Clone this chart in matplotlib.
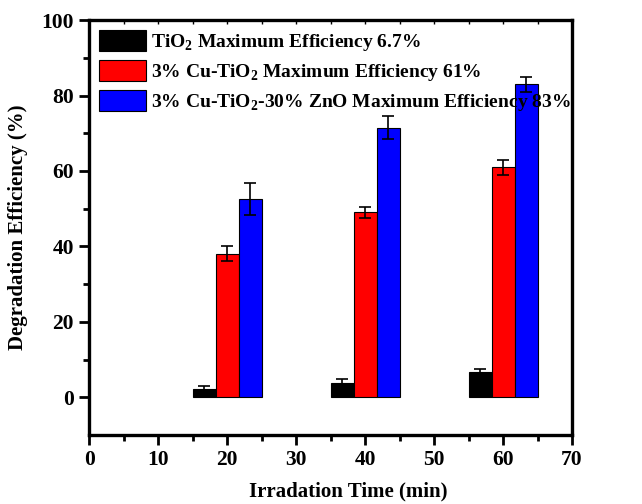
import numpy as np
import matplotlib.pyplot as plt
from matplotlib.ticker import MultipleLocator

plt.rcParams['font.family'] = ['Liberation Serif', 'DejaVu Serif']
plt.rcParams['font.weight'] = 'bold'
plt.rcParams['mathtext.fontset'] = 'custom'
plt.rcParams['mathtext.rm'] = 'Liberation Serif:bold'
plt.rcParams['mathtext.bf'] = 'Liberation Serif:bold'

# irradiation times (min)
times = np.array([20, 40, 60])

# degradation efficiency (%) and error
tio2 = [2.2, 3.9, 6.7]
tio2_err = [0.8, 0.9, 0.9]
cu_tio2 = [38, 49, 61]
cu_tio2_err = [2.0, 1.5, 2.0]
cu_tio2_zno = [52.6, 71.5, 83]
cu_tio2_zno_err = [4.3, 3.0, 2.0]

labels = [r'TiO$_{2}$ Maximum Efficiency 6.7%',
          r'3% Cu-TiO$_{2}$ Maximum Efficiency 61%',
          r'3% Cu-TiO$_{2}$-30% ZnO Maximum Efficiency 83%']
colors = ['black', 'red', 'blue']

fig = plt.figure(figsize=(6.42, 5.04), dpi=100)
ax = fig.add_axes([0.139, 0.137, 0.752, 0.823])

w = 10 / 3.
series = [(tio2, tio2_err), (cu_tio2, cu_tio2_err), (cu_tio2_zno, cu_tio2_zno_err)]
for i, (vals, err) in enumerate(series):
    ax.bar(times + (i - 1) * w, vals, width=w, color=colors[i], edgecolor='black',
           linewidth=0.8, yerr=err, ecolor='black',
           error_kw=dict(elinewidth=1.2, capsize=4, capthick=1.2), label=labels[i])

ax.set_xlim(0, 70)
ax.set_ylim(-10, 100)
ax.xaxis.set_major_locator(MultipleLocator(10))
ax.xaxis.set_minor_locator(MultipleLocator(5))
ax.set_yticks([0, 20, 40, 60, 80, 100])
ax.set_yticks([10, 30, 50, 70, 90], minor=True)

for s in ax.spines.values():
    s.set_linewidth(2.4)
ax.tick_params(which='major', direction='out', length=7, width=2, labelsize=15.5, pad=4)
ax.tick_params(which='minor', direction='out', length=4, width=2)
ax.tick_params(axis='x', which='both', top=True)
# short inward marks along the top spine
for t in ax.xaxis.get_major_ticks() + ax.xaxis.get_minor_ticks():
    t.tick2line.set_markersize(3)
    t.tick2line.set_markeredgewidth(1)
    t.tick2line.set_marker(3)
ax.tick_params(right=False, which='both')

ax.set_xlabel('Irradation Time (min)', fontsize=15, fontweight='bold')
ax.xaxis.set_label_coords(0.537, -0.112)
ax.set_ylabel('Degradation Efficiency (%)', fontsize=15, fontweight='bold', labelpad=10)

leg = ax.legend(loc='upper left', frameon=False, fontsize=14, handlelength=2.4,
                handleheight=1.3, handletextpad=0.3, labelspacing=0.35,
                borderaxespad=0.2, borderpad=0.3)

fig.savefig('out.png', dpi=100)
